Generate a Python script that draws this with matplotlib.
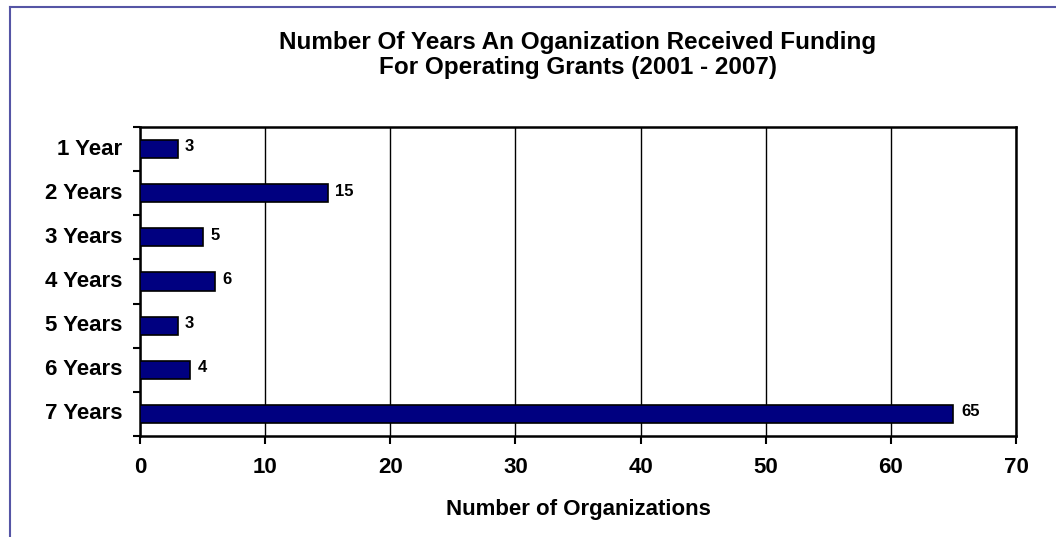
import matplotlib.pyplot as plt
from matplotlib.lines import Line2D

# Grant funding duration data
categories = ['1 Year', '2 Years', '3 Years', '4 Years', '5 Years', '6 Years', '7 Years']
org_counts = [3, 15, 5, 6, 3, 4, 65]
x_ticks = [0, 10, 20, 30, 40, 50, 60, 70]

plt.rcParams['font.family'] = ['Liberation Sans', 'DejaVu Sans']

W, H = 1056, 537
fig = plt.figure(figsize=(W / 100, H / 100), dpi=100)
ax = fig.add_axes([140 / W, 1 - 436 / H, 876 / W, 309 / H])

ypos = list(range(len(categories)))
ax.barh(ypos, org_counts, height=0.41, color='#000080', edgecolor='black', linewidth=1.2, zorder=3)

for y, v in zip(ypos, org_counts):
    ax.text(v + 0.6, y - 0.05, str(v), va='center', ha='left', fontsize=12, fontweight='bold')

ax.set_xlim(0, 70)
ax.set_ylim(len(categories) - 0.5, -0.5)
ax.set_xticks(x_ticks)
ax.set_xticklabels([str(t) for t in x_ticks], fontsize=16, fontweight='bold')
ax.tick_params(axis='x', direction='out', length=6, width=1.5, pad=9)

# category labels centred on bars, ticks on category boundaries
ax.set_yticks([y + 0.5 for y in ypos[:-1]] + [-0.5, len(categories) - 0.5])
ax.set_yticklabels([])
ax.tick_params(axis='y', direction='out', length=5, width=1.5)
for y, c in zip(ypos, categories):
    ax.text(-1.4, y, c, ha='right', va='center', fontsize=16, fontweight='bold')

ax.grid(axis='x', color='black', linewidth=1.0, zorder=0)
for s in ax.spines.values():
    s.set_linewidth(1.8)

fig.text(578 / W, 1 - 510 / H, 'Number of Organizations',
         ha='center', va='center', fontsize=16, fontweight='bold')
fig.text(578 / W, 1 - 55 / H,
         'Number Of Years An Oganization Received Funding\nFor Operating Grants (2001 - 2007)',
         ha='center', va='center', fontsize=17.5, fontweight='bold', linespacing=1.12)

# outer chart-area frame
frame = '#5555a5'
fig.add_artist(Line2D([10 / W, 10 / W], [1 - 7 / H, 0], color=frame, linewidth=1.5))
fig.add_artist(Line2D([10 / W, 1], [1 - 7 / H, 1 - 7 / H], color=frame, linewidth=1.5))

fig.savefig('out.png', dpi=100)
